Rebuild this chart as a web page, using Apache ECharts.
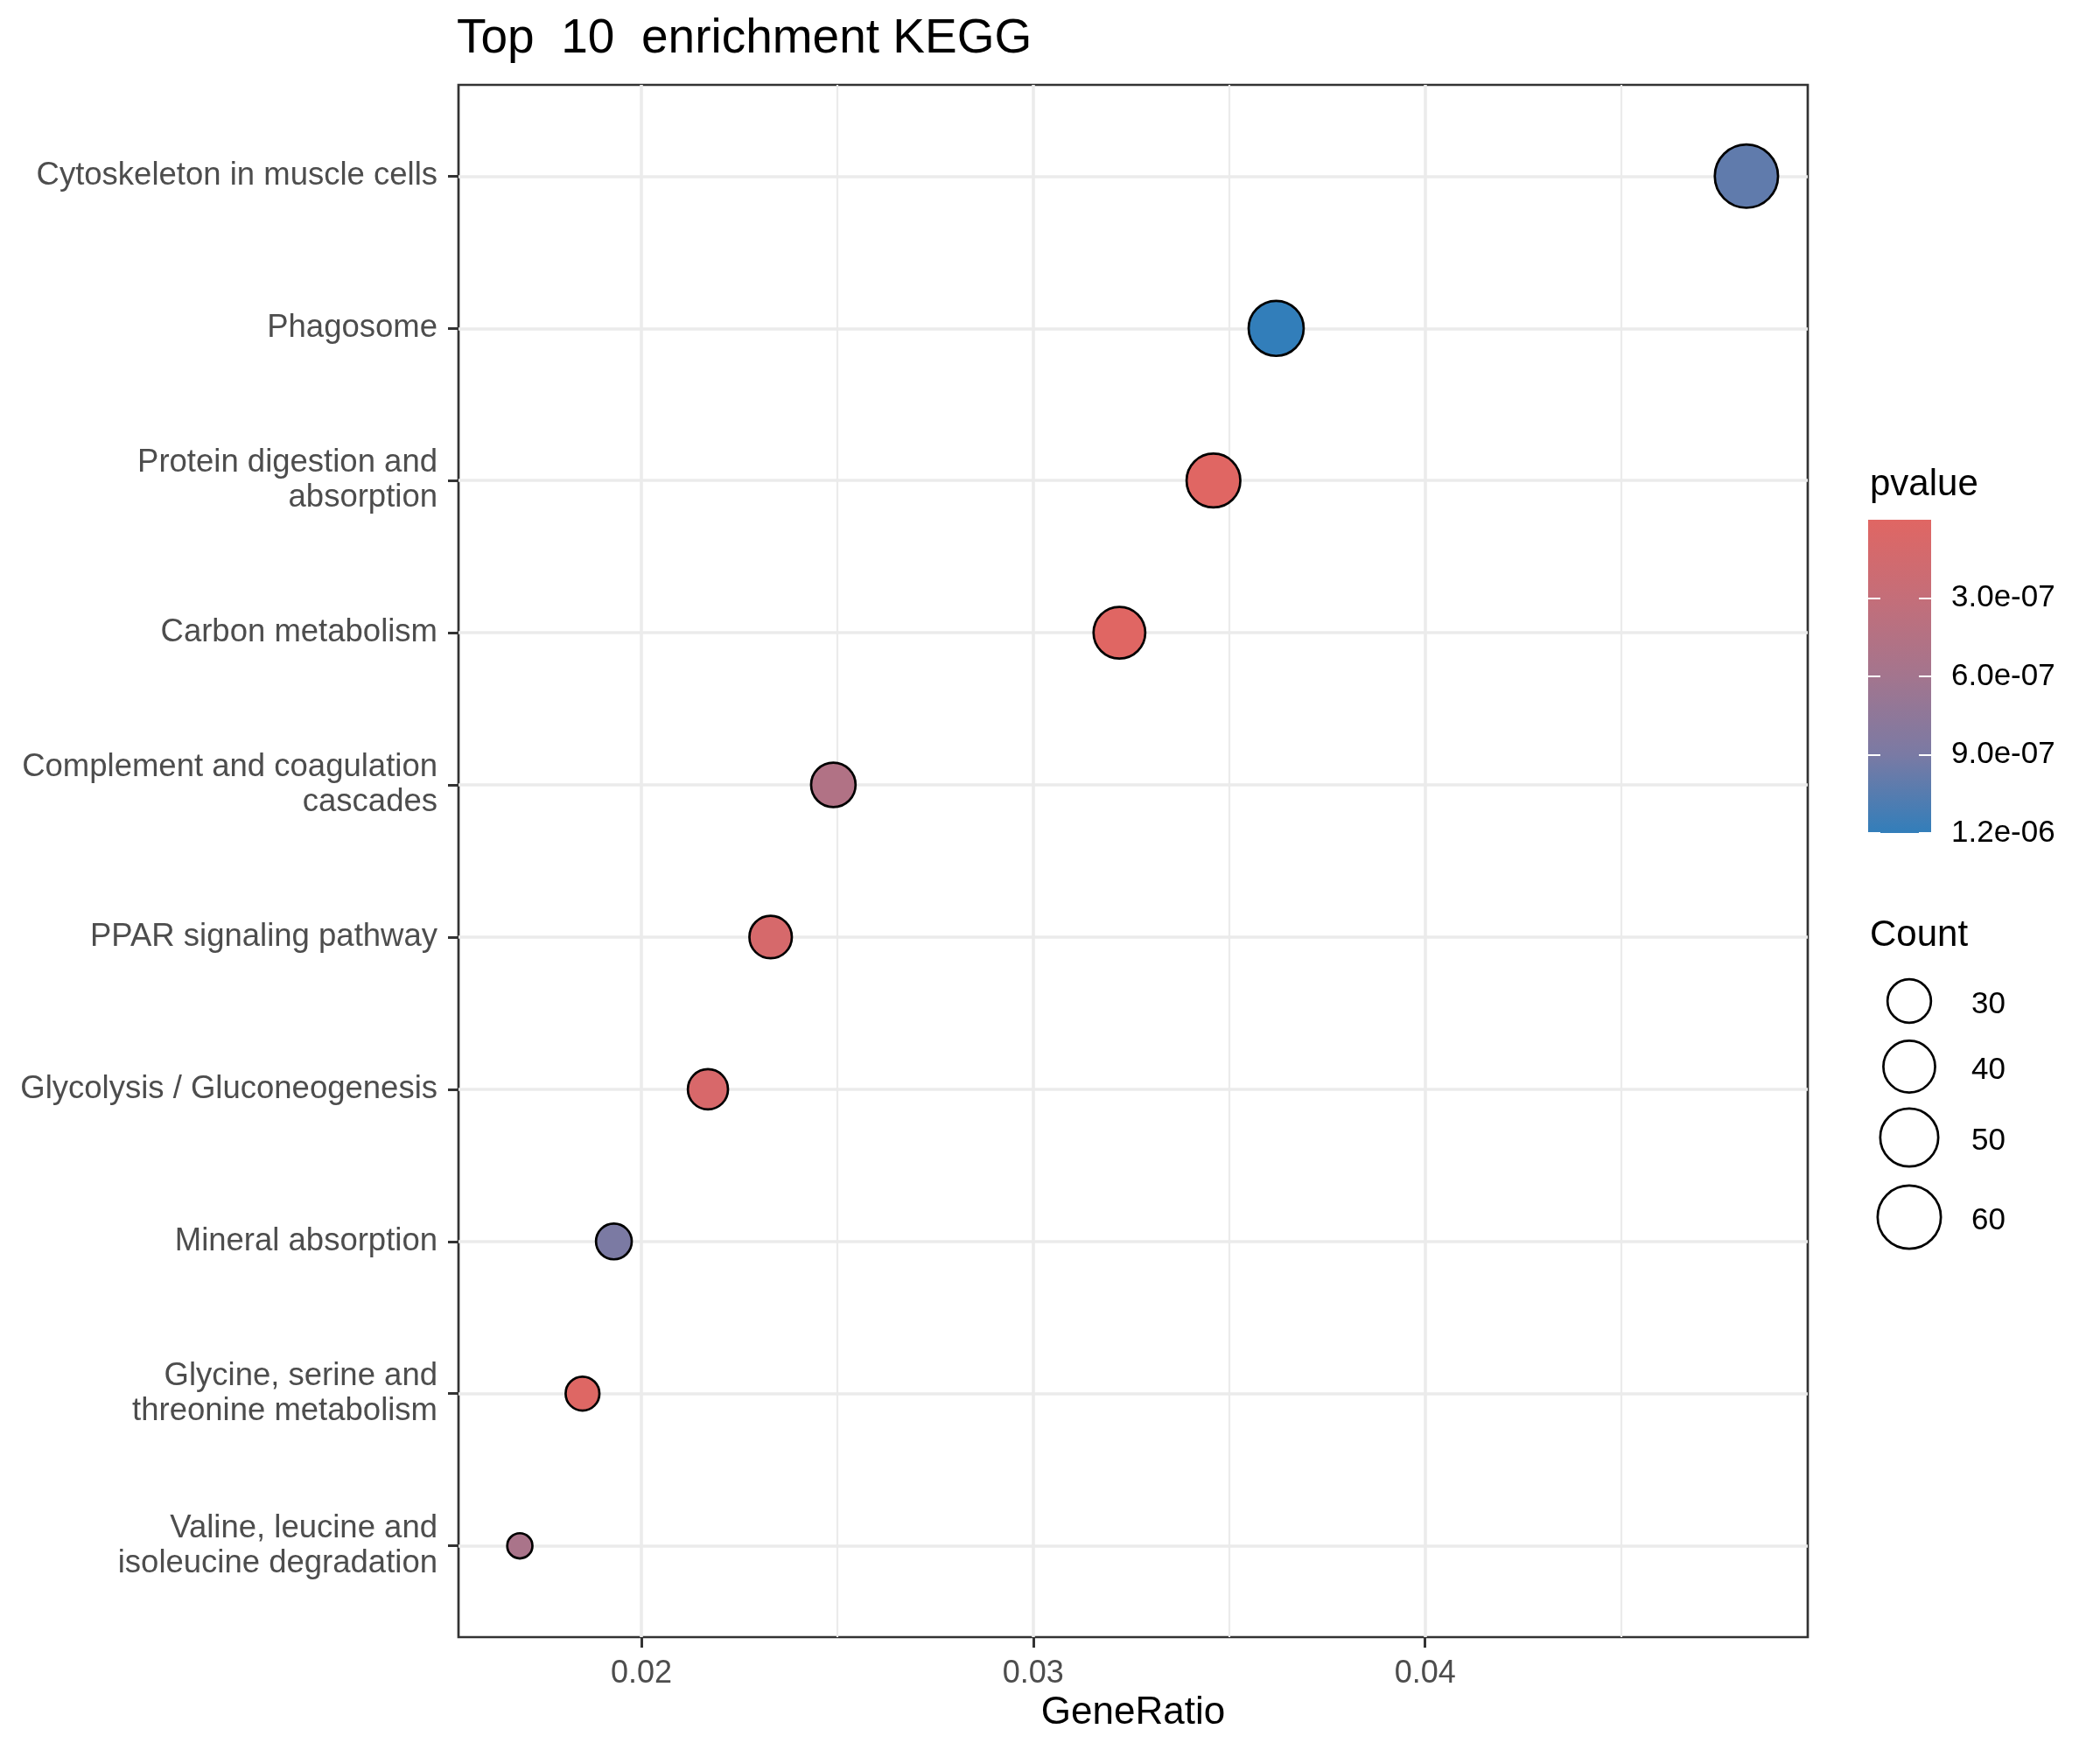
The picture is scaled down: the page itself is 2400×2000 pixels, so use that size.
<!DOCTYPE html>
<html><head><meta charset="utf-8">
<script src="https://cdn.jsdelivr.net/npm/echarts@6/dist/echarts.min.js"></script>
<style>html,body{margin:0;padding:0;background:#fff}#c{width:2400px;height:2000px}</style>
</head><body><div id="c"></div>
<script>
// ---- data (top to bottom as shown) ----
const pathways = [
  'Cytoskeleton in muscle cells',
  'Phagosome',
  'Protein digestion and\nabsorption',
  'Carbon metabolism',
  'Complement and coagulation\ncascades',
  'PPAR signaling pathway',
  'Glycolysis / Gluconeogenesis',
  'Mineral absorption',
  'Glycine, serine and\nthreonine metabolism',
  'Valine, leucine and\nisoleucine degradation'
];
const geneRatio = [0.0482, 0.0362, 0.0346, 0.0322, 0.0249, 0.0233, 0.0217, 0.0193, 0.0185, 0.0169];
const counts    = [60, 45, 43, 40, 31, 29, 27, 24, 23, 21];
const pvalues   = [1.01e-6, 1.2e-6, 1e-9, 5e-9, 4.7e-7, 1.1e-7, 9e-8, 8.9e-7, 2e-8, 5.4e-7];
const xTicks = [0.02, 0.03, 0.04];
const xTickLabels = ['0.02', '0.03', '0.04'];
const xMinorTicks = [0.025, 0.035, 0.045];
const pBreaks = [3e-7, 6e-7, 9e-7, 1.2e-6];
const pBreakLabels = ['3.0e-07', '6.0e-07', '9.0e-07', '1.2e-06'];
const countBreaks = [30, 40, 50, 60];
const countBreakLabels = ['30', '40', '50', '60'];

// ---- scales ----
const FONT = '"Liberation Sans", Arial, sans-serif';
const n = pathways.length;
const gradColors = ['#e06663', '#c46e79', '#a3758e', '#7a7aa4', '#327eba'];
const pMax = Math.max(...pvalues);
const cMin = Math.min(...counts), cMax = Math.max(...counts);
const D_MIN = 31.5, D_MAX = 75, BW = 2.7;
function diam(c) { const t = Math.max(0, (c - cMin) / (cMax - cMin)); return D_MIN + (D_MAX - D_MIN) * Math.sqrt(t); }
const rMin = Math.min(...geneRatio), rMax = Math.max(...geneRatio);
const pad = (rMax - rMin) * 0.05;
const xMin = rMin - pad, xMax = rMax + pad;
const yIdx = pathways.map((_, i) => i + 1);

const scatterData = pathways.map((p, i) => [geneRatio[i], n - i, pvalues[i], counts[i], p]);

// ---- layout ----
const P = { left: 524, right: 2066, top: 97, bottom: 1871 };
const CB = { left: 2135, top: 594, width: 72, height: 358 };
const legX = 2137;
const keyX = 2182, keyYs = [1144, 1219, 1300, 1391], keyLabelX = 2253;
const TXT_SHIFT = 4;

const graphics = [
  { type: 'text', left: legX, top: 550 - 21 + TXT_SHIFT, style: { text: 'pvalue', fontSize: 42, fontFamily: FONT, fill: '#000' } },
  { type: 'text', left: legX, top: 1065 - 21 + TXT_SHIFT, style: { text: 'Count', fontSize: 42, fontFamily: FONT, fill: '#000' } }
];
countBreaks.forEach((c, i) => {
  const r = (diam(c) - BW) / 2;
  graphics.push({ type: 'circle', shape: { cx: keyX, cy: keyYs[i], r: r }, style: { fill: '#fff', stroke: '#000', lineWidth: BW } });
  graphics.push({ type: 'text', x: keyLabelX, y: keyYs[i] + TXT_SHIFT, style: { text: countBreakLabels[i], fontSize: 35, fontFamily: FONT, fill: '#000', verticalAlign: 'middle', align: 'left' } });
});

const chart = echarts.init(document.getElementById('c'), null, { renderer: 'canvas' });
chart.setOption({
  backgroundColor: '#fff',
  animation: false,
  title: {
    text: 'Top  10  enrichment KEGG', left: 522, top: 17, padding: 0,
    textStyle: { fontSize: 55, fontWeight: 'normal', color: '#000', fontFamily: FONT }
  },
  grid: [
    { left: P.left, top: P.top, width: P.right - P.left, height: P.bottom - P.top, show: true,
      borderColor: '#333333', borderWidth: 2.7, backgroundColor: 'transparent', containLabel: false, outerBoundsMode: 'none' },
    { left: CB.left, top: CB.top, width: CB.width, height: CB.height, show: false, containLabel: false, outerBoundsMode: 'none' }
  ],
  xAxis: [
    { gridIndex: 0, type: 'value', min: xMin, max: xMax, position: 'bottom',
      axisLine: { show: false },
      axisTick: { show: true, customValues: xTicks, length: 12, lineStyle: { color: '#333333', width: 3 } },
      axisLabel: { customValues: xTicks, margin: 24, fontSize: 36, color: '#4D4D4D', fontFamily: FONT,
        formatter: v => { let k = 0; xTicks.forEach((t, i) => { if (Math.abs(t - v) < Math.abs(xTicks[k] - v)) k = i; }); return xTickLabels[k]; } },
      splitLine: { show: true, lineStyle: { color: '#EBEBEB', width: 3.6 } },
      name: 'GeneRatio', nameLocation: 'middle', nameGap: 86,
      nameTextStyle: { fontSize: 44, color: '#000', fontFamily: FONT, verticalAlign: 'middle' }
    },
    { gridIndex: 0, type: 'value', min: xMin, max: xMax, position: 'top',
      axisLine: { show: false }, axisTick: { show: false, customValues: xMinorTicks }, axisLabel: { show: false, customValues: xMinorTicks },
      splitLine: { show: true, lineStyle: { color: '#EBEBEB', width: 2.2 } }
    },
    { gridIndex: 1, type: 'category', data: ['pvalue'], show: false, boundaryGap: true }
  ],
  yAxis: [
    { gridIndex: 0, type: 'value', min: 0.4, max: 10.6,
      axisLine: { show: false },
      axisTick: { show: true, customValues: yIdx, length: 12, lineStyle: { color: '#333333', width: 3 } },
      axisLabel: { customValues: yIdx, margin: 24, fontSize: 36.5, color: '#4D4D4D', fontFamily: FONT, lineHeight: 40, align: 'right',
        padding: [6, 0, 0, 0],
        formatter: v => pathways[n - Math.round(v)] },
      splitLine: { show: true, lineStyle: { color: '#EBEBEB', width: 3.6 } }
    },
    { gridIndex: 1, type: 'value', min: 0, max: pMax, inverse: true, position: 'right', z: 10,
      axisLine: { show: false },
      axisTick: { show: true, inside: true, customValues: pBreaks, length: 14, lineStyle: { color: '#fff', width: 2 } },
      axisLabel: { customValues: pBreaks, margin: 23, fontSize: 35, color: '#000', fontFamily: FONT, padding: [8, 0, 0, 0],
        formatter: v => { let k = 0; pBreaks.forEach((t, i) => { if (Math.abs(t - v) < Math.abs(pBreaks[k] - v)) k = i; }); return pBreakLabels[k]; } },
      splitLine: { show: false }
    },
    { gridIndex: 1, type: 'value', min: 0, max: pMax, inverse: true, position: 'left', z: 10,
      axisLine: { show: false },
      axisTick: { show: true, inside: true, customValues: pBreaks, length: 14, lineStyle: { color: '#fff', width: 2 } },
      axisLabel: { show: false, customValues: pBreaks },
      splitLine: { show: false }
    }
  ],
  visualMap: {
    show: false, type: 'continuous', seriesIndex: 0, dimension: 2, min: 0, max: pMax,
    inRange: { color: gradColors }
  },
  series: [
    { type: 'scatter', xAxisIndex: 0, yAxisIndex: 0, data: scatterData, z: 5,
      symbol: 'circle', symbolSize: v => diam(v[3]) - BW,
      itemStyle: { borderColor: '#000', borderWidth: BW, opacity: 1 },
      emphasis: { disabled: true }
    },
    { type: 'bar', xAxisIndex: 2, yAxisIndex: 1, data: [pMax], barWidth: '100%', silent: true, z: 1,
      itemStyle: { color: new echarts.graphic.LinearGradient(0, 0, 0, 1,
        gradColors.map((c, i) => ({ offset: i / (gradColors.length - 1), color: c }))) }
    }
  ],
  graphic: graphics
});
</script></body></html>
